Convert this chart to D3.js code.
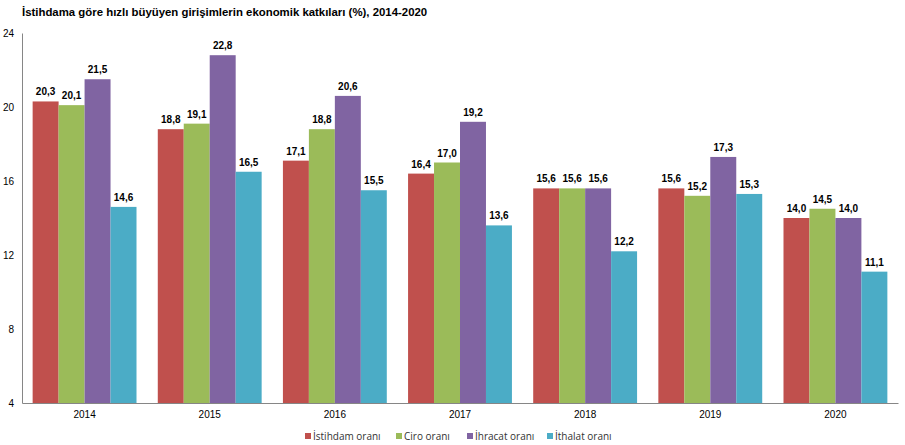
<!DOCTYPE html>
<html>
<head>
<meta charset="utf-8">
<script src="https://cdn.jsdelivr.net/npm/d3@7"></script>
<style>
  body { margin: 0; background: #fff; }
  svg { display: block; }
</style>
</head>
<body>
<div id="chart"></div>
<script>
// Data
const years = ['2014', '2015', '2016', '2017', '2018', '2019', '2020'];
const seriesNames = ['İstihdam oranı', 'Ciro oranı', 'İhracat oranı', 'İthalat oranı'];
const istihdam = [20.3, 18.8, 17.1, 16.4, 15.6, 15.6, 14.0];
const ciro = [20.1, 19.1, 18.8, 17.0, 15.6, 15.2, 14.5];
const ihracat = [21.5, 22.8, 20.6, 19.2, 15.6, 17.3, 14.0];
const ithalat = [14.6, 16.5, 15.5, 13.6, 12.2, 15.3, 11.1];
const yTicks = [4, 8, 12, 16, 20, 24];
const colors = ['#C0504D', '#9BBB59', '#8064A2', '#4BACC6'];

const seriesValues = [istihdam, ciro, ihracat, ithalat];

function draw() {
  const dimensions = {
    width: 905,
    height: 445,
    margin: { top: 33, bottom: 42, left: 22, right: 7 }
  };
  dimensions.ctrWidth = dimensions.width - dimensions.margin.left - dimensions.margin.right;
  dimensions.ctrHeight = dimensions.height - dimensions.margin.top - dimensions.margin.bottom;

  const svg = d3.select('#chart')
    .append('svg')
    .attr('width', dimensions.width)
    .attr('height', dimensions.height)
    .style('font-family', 'Arial, "Liberation Sans", sans-serif');

  // Title
  svg.append('text')
    .attr('x', 22)
    .attr('y', 16)
    .attr('font-size', 11.4)
    .attr('font-weight', 'bold')
    .attr('fill', '#000')
    .text('İstihdama göre hızlı büyüyen girişimlerin ekonomik katkıları (%), 2014-2020');

  const ctr = svg.append('g')
    .attr('transform', `translate(${dimensions.margin.left},${dimensions.margin.top})`);

  // Scales
  const xScale = d3.scaleBand()
    .domain(years)
    .range([0, dimensions.ctrWidth])
    .paddingInner(0.17)
    .paddingOuter(0.085);

  const xInner = d3.scaleBand()
    .domain(d3.range(seriesNames.length))
    .range([0, xScale.bandwidth()]);

  const yScale = d3.scaleLinear()
    .domain([4, 24])
    .range([dimensions.ctrHeight, 0]);

  // Axes
  const yAxis = d3.axisLeft(yScale)
    .tickValues(yTicks)
    .tickSize(0)
    .tickPadding(8)
    .tickFormat(d3.format('d'));

  const yAxisG = ctr.append('g').call(yAxis);
  yAxisG.select('.domain').attr('stroke', '#868686');
  yAxisG.selectAll('text')
    .attr('font-size', 10)
    .attr('fill', '#000')
    .attr('font-family', 'Arial, "Liberation Sans", sans-serif');

  const xAxis = d3.axisBottom(xScale)
    .tickSize(0)
    .tickPadding(8);

  const xAxisG = ctr.append('g')
    .attr('transform', `translate(0,${dimensions.ctrHeight})`)
    .call(xAxis);
  xAxisG.select('.domain').attr('stroke', '#868686');
  xAxisG.selectAll('text')
    .attr('font-size', 10)
    .attr('fill', '#000')
    .attr('font-family', 'Arial, "Liberation Sans", sans-serif');

  // Bars
  const groups = ctr.selectAll('.year')
    .data(years)
    .join('g')
    .attr('class', 'year')
    .attr('transform', (d) => `translate(${xScale(d)},0)`);

  const fmt = (v) => v.toFixed(1).replace('.', ',');

  groups.selectAll('rect')
    .data((d, i) => seriesValues.map((s, j) => ({ j, value: s[i] })))
    .join('rect')
    .attr('x', (d) => xInner(d.j))
    .attr('width', xInner.bandwidth())
    .attr('y', (d) => yScale(d.value))
    .attr('height', (d) => dimensions.ctrHeight - yScale(d.value))
    .attr('fill', (d) => colors[d.j]);

  groups.selectAll('.label')
    .data((d, i) => seriesValues.map((s, j) => ({ j, value: s[i] })))
    .join('text')
    .attr('class', 'label')
    .attr('x', (d) => xInner(d.j) + xInner.bandwidth() / 2)
    .attr('y', (d) => yScale(d.value) - 6)
    .attr('text-anchor', 'middle')
    .attr('font-size', 10)
    .attr('font-weight', 'bold')
    .attr('fill', '#000')
    .text((d) => fmt(d.value));

  // Legend
  const legendX = [305, 396, 467, 547];
  const legend = svg.append('g')
    .selectAll('g')
    .data(seriesNames)
    .join('g')
    .attr('transform', (d, i) => `translate(${legendX[i]},436)`);

  legend.append('rect')
    .attr('x', 0)
    .attr('y', -3)
    .attr('width', 6)
    .attr('height', 6)
    .attr('fill', (d, i) => colors[i]);

  legend.append('text')
    .attr('x', 8)
    .attr('y', 4)
    .attr('font-size', 10)
    .attr('font-family', '"Open Sans", "Noto Sans", sans-serif')
    .attr('fill', '#333')
    .text((d) => d);
}

draw();
</script>
</body>
</html>
